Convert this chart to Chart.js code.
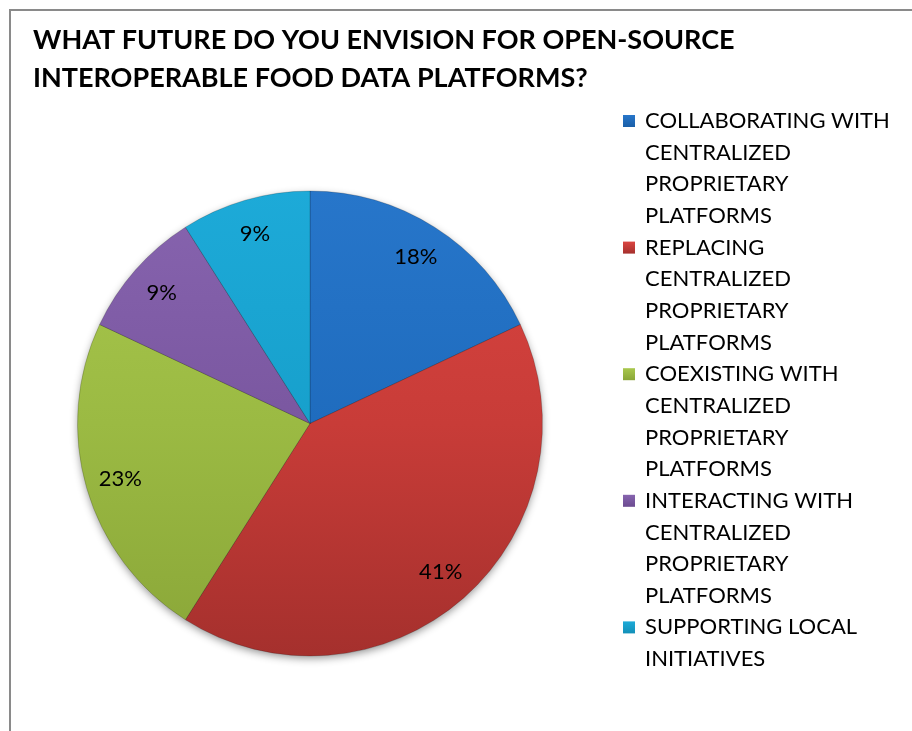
<!DOCTYPE html>
<html>
<head>
<meta charset="utf-8">
<script src="https://cdn.jsdelivr.net/npm/chart.js@4.4.1/dist/chart.umd.min.js"></script>
<style>
html,body{margin:0;padding:0;background:#fff;}
#wrap{position:relative;width:912px;height:731px;}
canvas{display:block;}
</style>
</head>
<body>
<div id="wrap"><canvas id="c" width="912" height="731"></canvas></div>
<script>
const titleLines = ["WHAT FUTURE DO YOU ENVISION FOR OPEN-SOURCE", "INTEROPERABLE FOOD DATA PLATFORMS?"];
const categories = [
  "COLLABORATING WITH CENTRALIZED PROPRIETARY PLATFORMS",
  "REPLACING CENTRALIZED PROPRIETARY PLATFORMS",
  "COEXISTING WITH CENTRALIZED PROPRIETARY PLATFORMS",
  "INTERACTING WITH CENTRALIZED PROPRIETARY PLATFORMS",
  "SUPPORTING LOCAL INITIATIVES"
];
const shares = [18, 41, 23, 9, 9];
const topColors = ["#2776CA", "#DB4541", "#A9C84D", "#8764AF", "#1DAAD8"];
const midColors = ["#1F6CBE", "#C83C38", "#9BBA43", "#7A57A0", "#17A0CC"];
const botColors = ["#1A5FA8", "#A5302D", "#8AA638", "#6B4B90", "#1390B8"];

const FONT = "Lato, 'Open Sans', sans-serif";

function sliceFill(ctx) {
  const chart = ctx.chart;
  const a = chart.chartArea;
  const i = ctx.dataIndex;
  if (!a) return midColors[i];
  const g = chart.ctx.createLinearGradient(0, a.top, 0, a.bottom);
  g.addColorStop(0, topColors[i]);
  g.addColorStop(0.5, midColors[i]);
  g.addColorStop(1, botColors[i]);
  return g;
}

const decor = {
  id: 'decor',
  beforeDatasetsDraw(chart) {
    const meta = chart.getDatasetMeta(0);
    const arc = meta.data[0];
    if (!arc) return;
    const ctx = chart.ctx;
    ctx.save();
    ctx.shadowColor = 'rgba(0,0,0,0.45)';
    ctx.shadowBlur = 9;
    ctx.shadowOffsetX = 0;
    ctx.shadowOffsetY = 3;
    ctx.beginPath();
    ctx.arc(arc.x, arc.y, arc.outerRadius - 1, 0, Math.PI * 2);
    ctx.fillStyle = '#777';
    ctx.fill();
    ctx.restore();
  },
  afterDraw(chart) {
    const ctx = chart.ctx;
    ctx.save();
    // frame
    ctx.strokeStyle = '#8a8a8a';
    ctx.lineWidth = 2;
    ctx.beginPath();
    ctx.moveTo(10, 740);
    ctx.lineTo(10, 10);
    ctx.lineTo(930, 10);
    ctx.stroke();

    // title
    ctx.fillStyle = '#000';
    ctx.textBaseline = 'middle';
    ctx.textAlign = 'left';
    ctx.font = "bold 27px " + FONT;
    titleLines.forEach((t, k) => ctx.fillText(t, 33, 40 + k * 38));

    // data labels
    const meta = chart.getDatasetMeta(0);
    ctx.font = "22px " + FONT;
    ctx.textAlign = 'center';
    meta.data.forEach((arc, i) => {
      const mid = (arc.startAngle + arc.endAngle) / 2;
      const r = arc.outerRadius * 0.85;
      ctx.fillText(shares[i] + '%', arc.x + Math.cos(mid) * r, arc.y + Math.sin(mid) * r);
    });

    // legend
    ctx.textAlign = 'left';
    ctx.font = "22px " + FONT;
    const maxW = 262;
    let y = 121;
    const lh = 31.65;
    categories.forEach((cat, i) => {
      const words = cat.split(' ');
      const lines = [];
      let cur = '';
      words.forEach(w => {
        const test = cur ? cur + ' ' + w : w;
        if (ctx.measureText(test).width > maxW && cur) { lines.push(cur); cur = w; }
        else cur = test;
      });
      if (cur) lines.push(cur);
      // marker
      const g = ctx.createLinearGradient(0, y - 6, 0, y + 6);
      g.addColorStop(0, topColors[i]);
      g.addColorStop(1, botColors[i]);
      ctx.fillStyle = g;
      ctx.fillRect(623, y - 6, 12, 12);
      ctx.fillStyle = '#000';
      lines.forEach((ln, k) => ctx.fillText(ln, 645, y + k * lh));
      y += lines.length * lh;
    });
    ctx.restore();
  }
};

new Chart(document.getElementById('c'), {
  type: 'pie',
  data: {
    labels: categories,
    datasets: [{
      data: shares,
      backgroundColor: sliceFill,
      borderColor: 'rgba(0,0,0,0.18)',
      borderWidth: 1,
      hoverOffset: 0
    }]
  },
  options: {
    responsive: false,
    animation: false,
    events: [],
    layout: { padding: { left: 77, right: 369, top: 190, bottom: 74 } },
    plugins: {
      legend: { display: false },
      title: { display: false },
      tooltip: { enabled: false }
    }
  },
  plugins: [decor]
});
</script>
</body>
</html>
